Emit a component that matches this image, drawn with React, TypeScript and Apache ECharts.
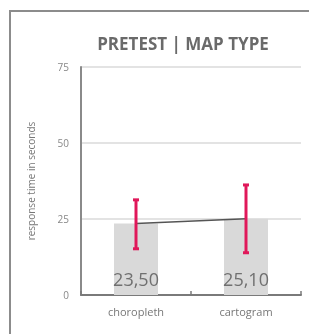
import React, { useEffect, useRef } from "react";
import * as echarts from "echarts";

const categories = ["choropleth", "cartogram"];
const means = [23.5, 25.1];
const meanLabels = ["23,50", "25,10"];
const errLow = [15.2, 13.9];
const errHigh = [31.3, 36.2];
const yTicks = [0, 25, 50, 75];

export default function App() {
  const ref = useRef<HTMLDivElement>(null);
  useEffect(() => {
    const chart = echarts.init(ref.current!, null, { renderer: "svg" });
    const font = "'Open Sans', 'Noto Sans', sans-serif";
    chart.setOption({
      animation: false,
      title: {
        text: "PRETEST | MAP TYPE",
        left: 178,
        textAlign: "center",
        top: 30,
        textStyle: { fontFamily: font, fontWeight: "bold", fontSize: 17, color: "#6a6a6a" },
      },
      graphic: [
        {
          type: "rect",
          shape: { x: 10, y: 11, width: 320, height: 340 },
          style: { fill: "none", stroke: "#8c8c8c", lineWidth: 2 },
          silent: true,
        },
      ],
      grid: { left: 81, right: 8, top: 67, bottom: 39 },
      xAxis: {
        type: "category",
        data: categories,
        axisLine: { lineStyle: { color: "#7a7a7a", width: 2 } },
        axisTick: { show: true, inside: true, length: 4, lineStyle: { color: "#7a7a7a", width: 1.5 } },
        axisLabel: { fontFamily: font, fontSize: 11, color: "#777", margin: 11 },
      },
      yAxis: {
        type: "value",
        min: yTicks[0],
        max: yTicks[yTicks.length - 1],
        interval: 25,
        name: "response time in seconds",
        nameLocation: "middle",
        nameGap: 45,
        nameTextStyle: { fontFamily: font, fontSize: 10, color: "#777" },
        axisLine: { show: true, lineStyle: { color: "#8a8a8a", width: 2 } },
        axisTick: { show: false },
        axisLabel: { fontFamily: font, fontSize: 10, color: "#888", margin: 12 },
        splitLine: { lineStyle: { color: "#dadada", width: 1.5 } },
      },
      series: [
        {
          type: "bar",
          data: means,
          barWidth: "40%",
          itemStyle: { color: "#d9d9d9" },
          label: {
            show: true,
            position: "insideBottom",
            distance: 7,
            formatter: (p: any) => meanLabels[p.dataIndex],
            fontFamily: font,
            fontSize: 18,
            color: "#707070",
          },
          z: 1,
        },
        {
          type: "line",
          data: means,
          symbol: "none",
          lineStyle: { color: "#555", width: 1.5 },
          z: 3,
        },
        {
          type: "custom",
          data: categories.map((_, i) => [i, errLow[i], errHigh[i]]),
          z: 4,
          renderItem: (params: any, api: any) => {
            const lo = api.coord([api.value(0), api.value(1)]);
            const hi = api.coord([api.value(0), api.value(2)]);
            const cap = 3;
            const style = { stroke: "#e0185a", lineWidth: 3 };
            return {
              type: "group",
              children: [
                { type: "line", shape: { x1: lo[0], y1: lo[1], x2: hi[0], y2: hi[1] }, style },
                { type: "line", shape: { x1: lo[0] - cap, y1: lo[1], x2: lo[0] + cap, y2: lo[1] }, style },
                { type: "line", shape: { x1: hi[0] - cap, y1: hi[1], x2: hi[0] + cap, y2: hi[1] }, style },
              ],
            };
          },
        },
      ],
    });
    return () => chart.dispose();
  }, []);
  return <div ref={ref} style={{ position: "fixed", left: 0, top: 0, width: 309, height: 334 }} />;
}
